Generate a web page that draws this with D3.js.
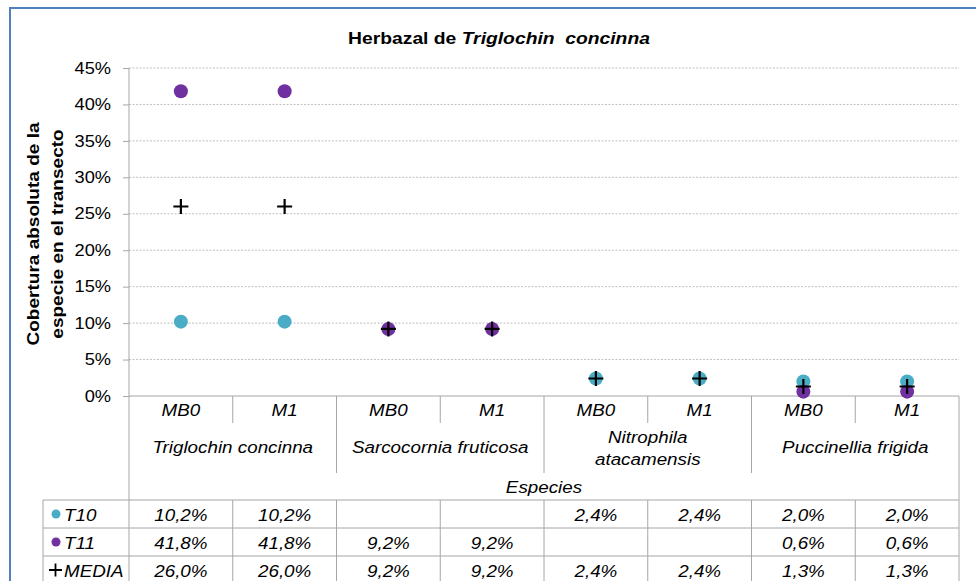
<!DOCTYPE html>
<html>
<head>
<meta charset="utf-8">
<script src="https://cdn.jsdelivr.net/npm/d3@7"></script>
<style>
  body { margin: 0; background: #fff; }
  svg { font-family: "Liberation Sans", Arial, sans-serif; }
</style>
</head>
<body>
<svg id="drawing_region"></svg>
<script>
// data
const groups = ["Triglochin concinna", "Sarcocornia fruticosa", "Nitrophila atacamensis", "Puccinellia frigida"];
const subs = ["MB0", "M1"];
const seriesNames = ["T10", "T11", "MEDIA"];
const t10 = [10.2, 10.2, null, null, 2.4, 2.4, 2.0, 2.0];
const t11 = [41.8, 41.8, 9.2, 9.2, null, null, 0.6, 0.6];
const media = [26.0, 26.0, 9.2, 9.2, 2.4, 2.4, 1.3, 1.3];
const yTicks = [0, 5, 10, 15, 20, 25, 30, 35, 40, 45];

const config = {
    width: 976,
    height: 581,
    left: 129,
    right: 959,
    top: 68,
    bottom: 396
};

// the original text is a bit wider than Liberation Sans
const STRETCH = 1.14;

const svg = d3.select('#drawing_region')
    .attr('width', config.width)
    .attr('height', config.height);

// place a text at (x, y) and widen it horizontally
function label(parent, x, y, str, size, opts = {}) {
    const t = parent.append('text')
        .attr('transform', `translate(${x},${y}) scale(${opts.stretch || STRETCH},1)`)
        .attr('text-anchor', opts.anchor || 'middle')
        .attr('font-size', size + 'px')
        .attr('font-style', opts.italic === false ? 'normal' : 'italic')
        .attr('fill', '#000');
    if (str !== null) t.text(str);
    return t;
}

// chart frame
svg.append('rect')
    .attr('x', 10).attr('y', 8)
    .attr('width', 980).attr('height', 600)
    .attr('fill', 'none')
    .attr('stroke', '#4F81BD')
    .attr('stroke-width', 2);

const columns = [];
groups.forEach((g, gi) => subs.forEach((s, si) => columns.push({ g, gi, s, si, i: gi * 2 + si })));

const xscale = d3.scaleBand()
    .domain(d3.range(columns.length))
    .range([config.left, config.right]);

const yscale = d3.scaleLinear()
    .domain([0, 45])
    .range([config.bottom, config.top]);

const mid = i => xscale(i) + xscale.bandwidth() / 2;

// gridlines
svg.append('g').selectAll('line')
    .data(yTicks.filter(d => d > 0))
    .join('line')
    .attr('x1', config.left).attr('x2', config.right)
    .attr('y1', d => yscale(d)).attr('y2', d => yscale(d))
    .attr('stroke', '#bfbfbf')
    .attr('stroke-dasharray', '2,1.5');

// y axis
const yaxis = d3.axisLeft(yscale)
    .tickValues(yTicks)
    .tickSize(6)
    .tickPadding(12)
    .tickFormat(d => d + '%');

const yaxis_group = svg.append('g')
    .attr('transform', `translate(${config.left}, 0)`)
    .call(yaxis);
yaxis_group.select('.domain').remove();
yaxis_group.selectAll('line').attr('stroke', '#a6a6a6');
yaxis_group.selectAll('text')
    .attr('x', -18 / STRETCH)
    .attr('transform', `scale(${STRETCH},1)`)
    .attr('font-size', '16px')
    .attr('fill', '#000')
    .attr('font-family', '"Liberation Sans", Arial, sans-serif');

const lineColor = '#a6a6a6';

// vertical axis line down through the table
svg.append('line')
    .attr('x1', config.left).attr('x2', config.left)
    .attr('y1', config.top).attr('y2', 581)
    .attr('stroke', lineColor);

// x axis baseline
svg.append('line')
    .attr('x1', config.left).attr('x2', config.right)
    .attr('y1', config.bottom).attr('y2', config.bottom)
    .attr('stroke', lineColor);

// right boundary of the category/table area
svg.append('line')
    .attr('x1', config.right).attr('x2', config.right)
    .attr('y1', config.bottom).attr('y2', 581)
    .attr('stroke', lineColor);

// separators between sub categories
svg.append('g').selectAll('line')
    .data(columns.filter(c => c.si === 1))
    .join('line')
    .attr('x1', c => xscale(c.i)).attr('x2', c => xscale(c.i))
    .attr('y1', config.bottom).attr('y2', 423)
    .attr('stroke', lineColor);

// separators between groups
svg.append('g').selectAll('line')
    .data(columns.filter(c => c.si === 0 && c.gi > 0))
    .join('line')
    .attr('x1', c => xscale(c.i)).attr('x2', c => xscale(c.i))
    .attr('y1', config.bottom).attr('y2', 473)
    .attr('stroke', lineColor);

const tSize = 16.5;

// sub category labels
columns.forEach(c => label(svg, mid(c.i), 416, c.s, tSize));

// group labels
const groupLines = {
    "Nitrophila atacamensis": ["Nitrophila", "atacamensis"]
};
groups.forEach((g, gi) => {
    const cx = xscale(gi * 2 + 1);
    const lines = groupLines[g] || [g];
    const t = label(svg, cx, lines.length === 1 ? 453 : 443, null, tSize);
    lines.forEach((l, li) => {
        t.append('tspan')
            .attr('x', 0)
            .attr('dy', li === 0 ? 0 : 22)
            .text(l);
    });
});

// x axis title
label(svg, (config.left + config.right) / 2, 493, 'Especies', tSize);

// data table
const rowTop = 500;
const rowH = 28;
const tableLeft = 43;
const rows = [t10, t11, media];

svg.append('g').selectAll('line')
    .data(d3.range(rows.length + 1))
    .join('line')
    .attr('x1', tableLeft).attr('x2', config.right)
    .attr('y1', r => rowTop + r * rowH).attr('y2', r => rowTop + r * rowH)
    .attr('stroke', lineColor);

svg.append('line')
    .attr('x1', tableLeft).attr('x2', tableLeft)
    .attr('y1', rowTop).attr('y2', 581)
    .attr('stroke', lineColor);

svg.append('g').selectAll('line')
    .data(d3.range(1, columns.length))
    .join('line')
    .attr('x1', i => xscale(i)).attr('x2', i => xscale(i))
    .attr('y1', rowTop).attr('y2', 581)
    .attr('stroke', lineColor);

const fmt = v => v.toFixed(1).replace('.', ',') + '%';

rows.forEach((vals, r) => {
    vals.forEach((v, i) => {
        if (v !== null) label(svg, mid(i), rowTop + r * rowH + 21, fmt(v), tSize);
    });
});

const colors = { T10: '#4BACC6', T11: '#7030A0' };

// legend keys in table
seriesNames.forEach((name, r) => {
    const cy = rowTop + r * rowH + 14;
    if (name === 'MEDIA') {
        svg.append('path')
            .attr('d', `M49,${cy} h13 M55.5,${cy - 6.5} v13`)
            .attr('stroke', '#000')
            .attr('stroke-width', 1.8);
    } else {
        svg.append('circle')
            .attr('cx', 56).attr('cy', cy).attr('r', 4.5)
            .attr('fill', colors[name]);
    }
    label(svg, 64, cy + 7, name, tSize, { anchor: 'start' });
});

// markers
const pts = (vals) => vals.map((v, i) => ({ v, i })).filter(d => d.v !== null);

[['T10', t10], ['T11', t11]].forEach(([name, vals]) => {
    svg.append('g').selectAll('circle')
        .data(pts(vals))
        .join('circle')
        .attr('cx', d => mid(d.i))
        .attr('cy', d => yscale(d.v))
        .attr('r', 7)
        .attr('fill', colors[name]);
});

svg.append('g').selectAll('path')
    .data(pts(media))
    .join('path')
    .attr('d', d => {
        const x = mid(d.i);
        const y = yscale(d.v);
        return `M${x - 7.5},${y} h15 M${x},${y - 7.5} v15`;
    })
    .attr('stroke', '#000')
    .attr('stroke-width', 2.2);

// title
const title = label(svg, 499, 44, null, 16.5, { italic: false, stretch: 1.17 })
    .attr('font-weight', 'bold');
title.append('tspan').text('Herbazal de ');
title.append('tspan').attr('font-style', 'italic').text('Triglochin\u00a0 concinna');

// y axis title
const ytitle = svg.append('text')
    .attr('transform', `translate(0, 234) rotate(-90) scale(1.12,1)`)
    .attr('text-anchor', 'middle')
    .attr('font-size', '17px')
    .attr('font-weight', 'bold')
    .attr('fill', '#000');
ytitle.append('tspan').attr('x', 0).attr('y', 39).text('Cobertura absoluta de la');
ytitle.append('tspan').attr('x', 0).attr('y', 63).text('especie en el transecto');
</script>
</body>
</html>
